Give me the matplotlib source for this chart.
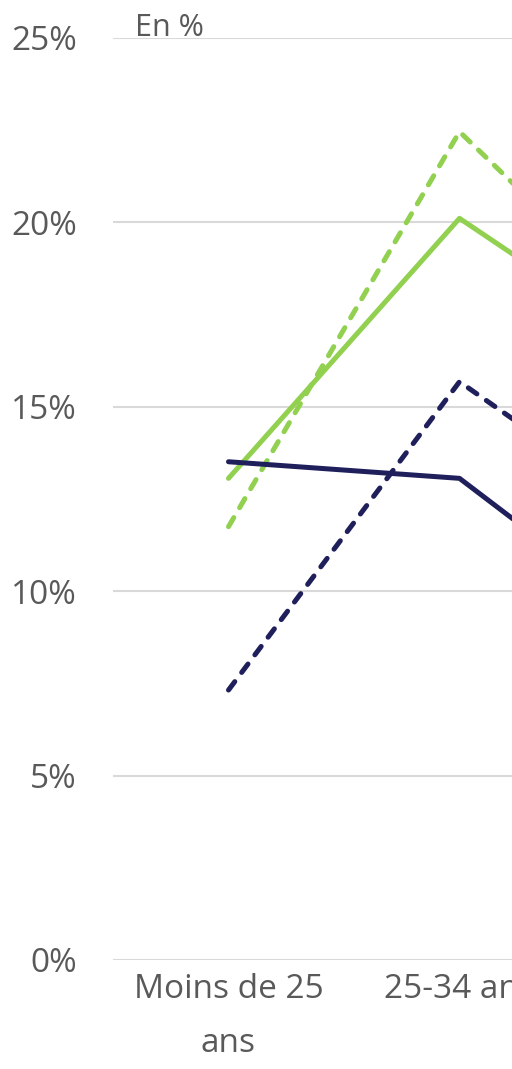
import matplotlib.pyplot as plt
from matplotlib.ticker import PercentFormatter

plt.rcParams['font.family'] = ['Open Sans', 'DejaVu Sans']

# data (share, in %)
categories = ['Moins de 25\nans', '25-34 ans', '35-49 ans']
green_solid = [13.06, 20.11, 15.9]
green_dashed = [11.75, 22.46, 16.4]
navy_solid = [13.51, 13.06, 8.3]
navy_dashed = [7.32, 15.68, 11.3]
yticks = [0, 5, 10, 15, 20, 25]

GREEN = '#92D050'
NAVY = '#1F1F5B'
GREY = '#595959'

fig = plt.figure(figsize=(5.12, 10.69), dpi=100)
# axes run past the right edge, the picture is a crop of a wider chart
ax = fig.add_axes([113 / 512, 109 / 1069, 3 * 231 / 512, 922 / 1069])

x = range(len(categories))
lw = 3.6
ax.plot(x, green_solid, color=GREEN, lw=lw, solid_capstyle='round')
ax.plot(x, green_dashed, color=GREEN, lw=lw, dashes=(2.1, 2.3), dash_capstyle='round')
ax.plot(x, navy_solid, color=NAVY, lw=lw, solid_capstyle='round')
ax.plot(x, navy_dashed, color=NAVY, lw=lw, dashes=(2.1, 2.3), dash_capstyle='round')

ax.set_xlim(-0.5, len(categories) - 0.5)
ax.set_ylim(0, 25)
ax.set_yticks(yticks)
ax.yaxis.set_major_formatter(PercentFormatter(decimals=0))
ax.set_xticks(list(x))
ax.set_xticklabels(categories, linespacing=1.85)
ax.tick_params(axis='both', length=0, labelsize=24, colors=GREY)
ax.tick_params(axis='y', pad=26)
ax.tick_params(axis='x', pad=9)
ax.grid(True, axis='y', color='#D9D9D9', lw=1.5)
ax.set_axisbelow(True)
for s in ax.spines.values():
    s.set_visible(False)

fig.text(135 / 512, 1 - 36 / 1069, 'En %', fontsize=22, color=GREY, va='baseline')

fig.savefig('out.png', dpi=100)
